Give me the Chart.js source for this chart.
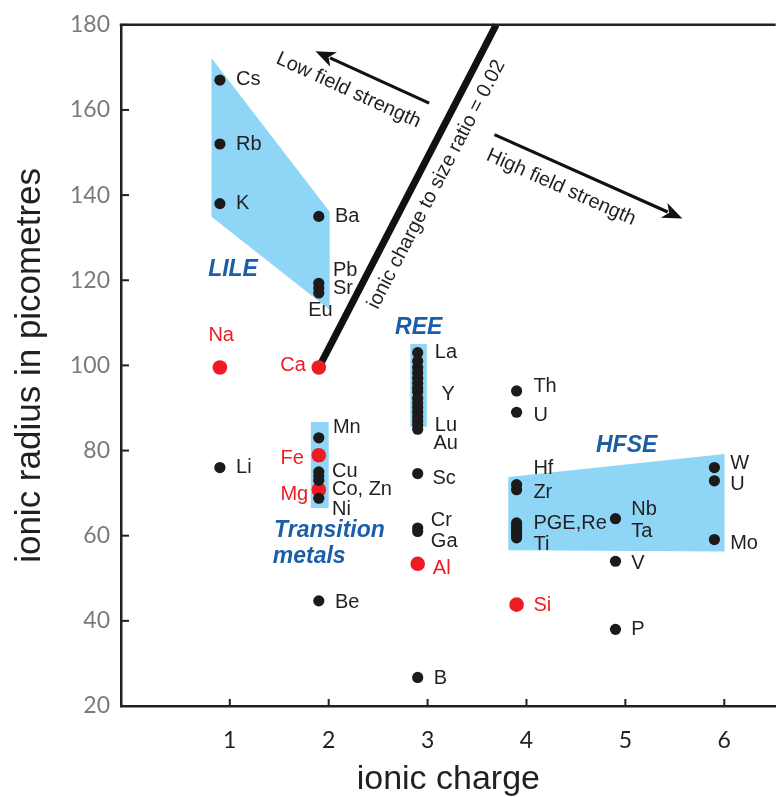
<!DOCTYPE html>
<html><head><meta charset="utf-8">
<script src="https://cdn.jsdelivr.net/npm/chart.js@4.4.1/dist/chart.umd.min.js"></script>
<style>html,body{margin:0;padding:0;background:#fff;overflow:hidden}#wrap{width:783px;height:797px;position:relative}</style>
</head><body><div id="wrap"><canvas id="c"></canvas></div>
<script>
// ---- data ----
const xTicks = [1, 2, 3, 4, 5, 6];
const yTicks = [20, 40, 60, 80, 100, 120, 140, 160, 180];

// black points (ionic charge offset as plotted, radius pm)
const blackX = [0.9, 0.9, 0.9, 1.9, 1.9, 1.9, 1.9, 0.9,
  1.9, 1.9, 1.9, 1.9, 1.9,
  2.9, 2.9, 2.9, 2.9, 2.9, 2.9, 2.9, 2.9, 2.9, 2.9, 2.9, 2.9, 2.9, 2.9, 2.9, 2.9,
  2.9, 2.9, 2.9,
  3.9, 3.9, 3.9, 3.9,
  3.9, 3.9, 3.9, 3.9, 3.9, 3.9, 3.9,
  4.9, 4.9, 4.9, 5.9, 5.9, 5.9, 1.9, 2.9];
const blackY = [167, 152, 138, 135, 119.3, 118.2, 117, 76,
  83, 75, 74, 73, 68.8,
  103, 101, 99.5, 98.3, 97, 95.8, 94.7, 93.8, 92.3, 91.2, 90.1, 89, 88, 87, 86, 85,
  74.6, 61.8, 61,
  94, 89, 72, 70.8,
  63, 62.4, 61.8, 61.2, 60.6, 60, 59.5,
  64, 54, 38, 76, 72.9, 59.1, 44.7, 26.7];

// red points: Na, Ca, Fe, Mg, Al, Si
const redX = [0.9, 1.9, 1.9, 1.9, 2.9, 3.9];
const redY = [99.5, 99.5, 78.9, 70.8, 53.4, 43.8];

// element labels (anchor in data units)
const labelText = ['Cs','Rb','K','Ba','Pb','Sr','Eu','Na','Ca','Li','Mn','Fe','Cu','Co, Zn','Mg','Ni',
  'La','Y','Lu','Au','Sc','Cr','Ga','Al','Th','U','Hf','Zr','PGE,Re','Ti','Nb','Ta','V','Si','W','U','Mo','P','Be','B'];
const labelX = [1.063,1.063,1.063,2.063,2.043,2.043,1.793,0.913,1.77,1.063,2.043,1.75,2.033,2.033,1.793,2.033,
  3.073,3.14,3.073,3.06,3.05,3.033,3.033,3.053,4.07,4.07,4.07,4.07,4.07,4.07,5.06,5.06,5.06,4.07,6.06,6.06,6.06,5.06,2.063,3.063];
const labelY = [167.2,152,138,135,122.4,118,112.8,107,100,76,85.5,78.2,75,70.8,69.7,66.2,
  103,93.2,86,81.6,73.4,63.6,58.7,52.2,95.1,88.3,75.7,70.1,62.9,58,66.2,61,53.4,43.6,77,72,58.2,38,44.3,26.5];
const redNames = ['Na','Ca','Fe','Mg','Al','Si'];
const rightAligned = ['Ca','Fe','Mg'];
const centered = ['Na'];

// group regions (data units)
const lileX = [0.815, 2.01, 2.01, 0.815];
const lileY = [172.2, 136.1, 113.1, 134.9];
const transX = [1.82, 2.0, 2.0, 1.82];
const transY = [86.7, 86.7, 66.5, 66.5];
const reeX = [2.826, 2.993, 2.993, 2.826];
const reeY = [105, 105, 85.6, 85.6];
const hfseX = [3.816, 6.003, 6.003, 3.816];
const hfseY = [73.8, 79.2, 56.3, 56.6];

const groupText = ['LILE', 'REE', 'HFSE', 'Transition', 'metals'];
const groupX = [1.033, 2.91, 5.013, 2.008, 1.803];
const groupY = [122.4, 108.9, 81.1, 61.3, 55.0];

// ratio line and arrows
const ratioLineX = [1.9, 3.693];
const ratioLineY = [99.5, 180];
const lowArrowX = [3.016, 1.866];   // tail, head
const lowArrowY = [161.6, 173.8];
const highArrowX = [3.676, 5.576];
const highArrowY = [154.2, 134.5];
const noteText = ['ionic charge to size ratio = 0.02', 'Low field strength', 'High field strength'];
const noteX = [3.09, 2.2, 4.35];
const noteY = [142.5, 164.6, 141.8];

// ---- drawing ----
const AX = '#231f20';
const BLUEFILL = 'rgb(143,214,246)';
const GROUPBLUE = 'rgb(27,94,168)';
const RED = 'rgb(237,28,36)';

function poly(ctx, xs, ys, sx, sy) {
  ctx.beginPath();
  xs.forEach((v, i) => {
    const X = sx.getPixelForValue(v), Y = sy.getPixelForValue(ys[i]);
    i ? ctx.lineTo(X, Y) : ctx.moveTo(X, Y);
  });
  ctx.closePath();
  ctx.fill();
}
function arrow(ctx, xs, ys, sx, sy) {
  const x0 = sx.getPixelForValue(xs[0]), y0 = sy.getPixelForValue(ys[0]);
  const x1 = sx.getPixelForValue(xs[1]), y1 = sy.getPixelForValue(ys[1]);
  const a = Math.atan2(y1 - y0, x1 - x0);
  const L = 20, W = 8;
  ctx.strokeStyle = '#111'; ctx.lineWidth = 3.2; ctx.lineCap = 'butt';
  ctx.beginPath(); ctx.moveTo(x0, y0);
  ctx.lineTo(x1 - Math.cos(a) * (L - 4), y1 - Math.sin(a) * (L - 4)); ctx.stroke();
  ctx.fillStyle = '#111';
  ctx.beginPath();
  ctx.moveTo(x1, y1);
  ctx.lineTo(x1 - Math.cos(a) * L + Math.sin(a) * W, y1 - Math.sin(a) * L - Math.cos(a) * W);
  ctx.lineTo(x1 - Math.cos(a) * L * 0.72, y1 - Math.sin(a) * L * 0.72);
  ctx.lineTo(x1 - Math.cos(a) * L - Math.sin(a) * W, y1 - Math.sin(a) * L + Math.cos(a) * W);
  ctx.closePath(); ctx.fill();
  return a;
}
function rotText(ctx, t, X, Y, ang) {
  ctx.save(); ctx.translate(X, Y); ctx.rotate(ang);
  ctx.textAlign = 'center'; ctx.textBaseline = 'middle';
  ctx.fillText(t, 0, 0); ctx.restore();
}

const deco = {
  id: 'deco',
  beforeDatasetsDraw(chart) {
    const {ctx, scales: {x: sx, y: sy}} = chart;
    ctx.save();
    ctx.fillStyle = BLUEFILL;
    poly(ctx, lileX, lileY, sx, sy);
    poly(ctx, transX, transY, sx, sy);
    poly(ctx, reeX, reeY, sx, sy);
    poly(ctx, hfseX, hfseY, sx, sy);
    // ratio line
    ctx.strokeStyle = '#111'; ctx.lineWidth = 7; ctx.lineCap = 'butt';
    ctx.beginPath();
    ctx.moveTo(sx.getPixelForValue(ratioLineX[0]), sy.getPixelForValue(ratioLineY[0]));
    ctx.lineTo(sx.getPixelForValue(ratioLineX[1]), sy.getPixelForValue(ratioLineY[1]));
    ctx.stroke();
    ctx.restore();
  },
  afterDatasetsDraw(chart) {
    const {ctx, chartArea: ca, scales: {x: sx, y: sy}} = chart;
    ctx.save();
    // frame top line + inward ticks
    ctx.strokeStyle = AX; ctx.lineWidth = 2.5;
    ctx.beginPath(); ctx.moveTo(ca.left - 1.25, ca.top); ctx.lineTo(ca.right, ca.top); ctx.stroke();
    ctx.lineWidth = 2;
    xTicks.forEach(v => {
      const X = sx.getPixelForValue(v);
      ctx.beginPath(); ctx.moveTo(X, ca.bottom); ctx.lineTo(X, ca.bottom - 7); ctx.stroke();
    });
    yTicks.forEach(v => {
      const Y = sy.getPixelForValue(v);
      ctx.beginPath(); ctx.moveTo(ca.left, Y); ctx.lineTo(ca.left + 8, Y); ctx.stroke();
    });
    // element labels
    ctx.font = '20px "Liberation Sans", Arial, sans-serif';
    ctx.textBaseline = 'middle';
    labelText.forEach((t, i) => {
      ctx.fillStyle = redNames.includes(t) ? RED : '#231f20';
      ctx.textAlign = rightAligned.includes(t) ? 'right' : (centered.includes(t) ? 'center' : 'left');
      ctx.fillText(t, sx.getPixelForValue(labelX[i]), sy.getPixelForValue(labelY[i]));
    });
    // group labels
    ctx.font = 'italic bold 23px "Liberation Sans", Arial, sans-serif';
    ctx.fillStyle = GROUPBLUE; ctx.textAlign = 'center';
    groupText.forEach((t, i) => ctx.fillText(t, sx.getPixelForValue(groupX[i]), sy.getPixelForValue(groupY[i])));
    // arrows
    const aLow = arrow(ctx, lowArrowX, lowArrowY, sx, sy);
    const aHigh = arrow(ctx, highArrowX, highArrowY, sx, sy);
    const lx0 = sx.getPixelForValue(ratioLineX[0]), ly0 = sy.getPixelForValue(ratioLineY[0]);
    const lx1 = sx.getPixelForValue(ratioLineX[1]), ly1 = sy.getPixelForValue(ratioLineY[1]);
    const aLine = Math.atan2(ly1 - ly0, lx1 - lx0);
    ctx.font = '20px "Liberation Sans", Arial, sans-serif';
    ctx.fillStyle = '#231f20';
    const angs = [aLine, aLow + Math.PI, aHigh];
    noteText.forEach((t, i) => rotText(ctx, t, sx.getPixelForValue(noteX[i]), sy.getPixelForValue(noteY[i]), angs[i]));
    ctx.restore();
  }
};

new Chart(document.getElementById('c'), {
  type: 'scatter',
  data: {
    datasets: [
      { data: blackX.map((v, i) => ({x: v, y: blackY[i]})), backgroundColor: '#1c1a1b', borderWidth: 0, pointRadius: 5.6, pointHoverRadius: 5.6 },
      { data: redX.map((v, i) => ({x: v, y: redY[i]})), backgroundColor: RED, borderWidth: 0, pointRadius: 7.3, pointHoverRadius: 7.3 }
    ]
  },
  options: {
    responsive: true, maintainAspectRatio: false, animation: false,
    layout: { padding: { top: 20, right: 0, left: 0, bottom: 0 } },
    plugins: { legend: { display: false }, tooltip: { enabled: false } },
    scales: {
      x: {
        type: 'linear', min: -0.1, max: 6.52,
        afterBuildTicks: s => { s.ticks = xTicks.map(v => ({value: v})); },
        afterFit: s => { s.height = 91; },
        grid: { display: false, drawTicks: false },
        border: { display: true, color: AX, width: 2.5 },
        ticks: { padding: 21, color: '#222', font: { family: 'Lato', size: 23 }, maxRotation: 0 },
        title: { display: true, text: 'ionic charge', color: '#231f20', padding: 0,
          font: { family: '"Liberation Sans", Arial, sans-serif', size: 34, lineHeight: 1 } }
      },
      y: {
        type: 'linear', min: 20, max: 180,
        afterBuildTicks: s => { s.ticks = yTicks.map(v => ({value: v})); },
        afterFit: s => { s.width = 121; },
        grid: { display: false, drawTicks: false },
        border: { display: true, color: AX, width: 2.5 },
        ticks: { padding: 11, color: '#7a7a7a', font: { family: 'Lato', size: 23 } },
        title: { display: true, text: 'ionic radius in picometres', color: '#231f20', padding: { top: 13, bottom: 0 },
          font: { family: '"Liberation Sans", Arial, sans-serif', size: 35, lineHeight: 1 } }
      }
    }
  },
  plugins: [deco]
});
</script></body></html>
